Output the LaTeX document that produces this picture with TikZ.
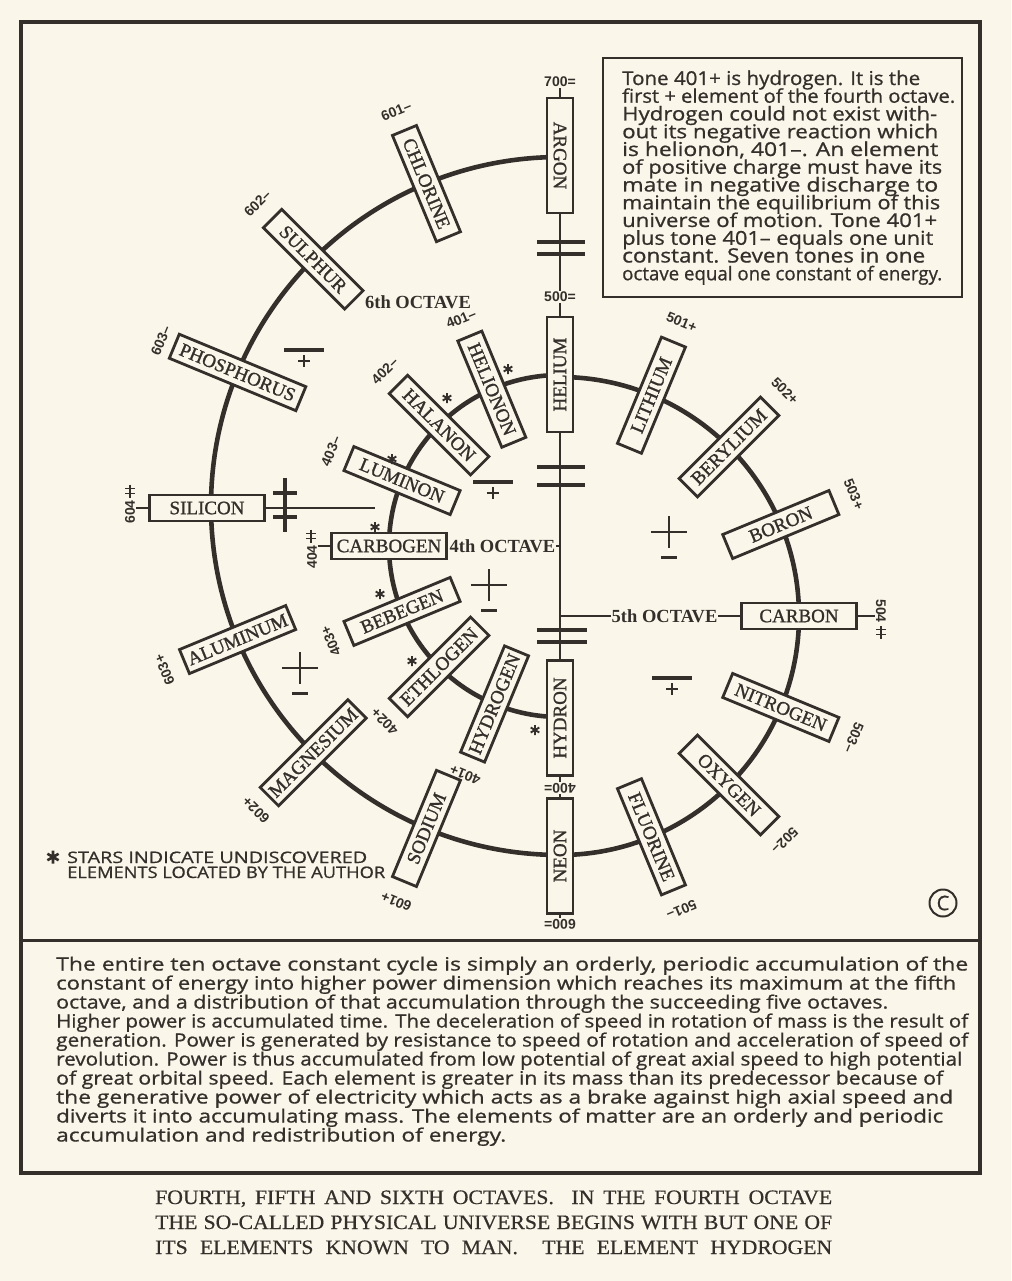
\documentclass[tikz,border=0pt]{standalone}
\usepackage{fontspec}
\usepackage{graphicx}
\setmainfont{Liberation Serif}
\newfontfamily\elemfont{Liberation Serif}[FakeBold=1.2]
\newfontfamily\numfont{Liberation Sans}
\newfontfamily\handfont{Open Sans}[FakeBold=0.8]
\newfontfamily\capfont{Liberation Serif}[FakeBold=0.5]
\usetikzlibrary{calc}
\definecolor{paper}{RGB}{250,247,234}
\definecolor{ink}{RGB}{52,47,43}
\newcommand{\fitln}[3]{\resizebox{#1pt}{#2pt}{#3}}
\tikzset{
  elem/.style={draw=ink, line width=2.8pt, fill=paper, minimum width=115pt, minimum height=26pt, inner sep=2pt, text=ink, font=\elemfont\fontsize{19}{19}\selectfont},
  num/.style={text=ink, inner sep=0.5pt, font=\numfont\bfseries\fontsize{14}{14}\selectfont},
  axlbl/.style={num, fill=paper, inner sep=1.2pt},
  octlbl/.style={text=ink, inner sep=0.5pt, font=\bfseries\fontsize{18.5}{18.5}\selectfont},
  arcline/.style={draw=ink, line width=4.6pt},
  thinline/.style={draw=ink, line width=1.3pt},
  barline/.style={draw=ink, line width=4pt},
  handline/.style={text=ink, inner sep=0pt, anchor=base west, font=\handfont\fontsize{16}{16}\selectfont},
  capline/.style={text=ink, inner sep=0pt, anchor=base west, font=\capfont\fontsize{20.5}{20.5}\selectfont},
  pics/starmark/.style={code={\draw[ink, line width=1.9pt] (0,-5) -- (0,5) (-4.3,-2.5) -- (4.3,2.5) (-4.3,2.5) -- (4.3,-2.5);}},
  pics/bigstar/.style={code={\draw[ink, line width=2.6pt] (0,-6.5) -- (0,6.5) (-5.6,-3.25) -- (5.6,3.25) (-5.6,3.25) -- (5.6,-3.25);}},
  pics/mpsign/.style={code={\draw[ink, line width=4pt] (-20,0) -- (20,0); \draw[ink, line width=1.6pt] (-6,11) -- (6,11) (0,5) -- (0,17);}},
  pics/pmsign/.style={code={\draw[ink, line width=2.9pt] (-18,0) -- (18,0) (0,-16) -- (0,16); \draw[ink, line width=3pt] (-8,25) -- (8,25);}},
  pics/dblcross/.style={code={\draw[ink, line width=1.6pt] (0,-6.5) -- (0,6.5) (-5,-2.5) -- (5,-2.5) (-5,2.5) -- (5,2.5);}},
  pics/bigcross/.style={code={\draw[ink, line width=3.5pt] (0,-27) -- (0,27) (-12,-12) -- (12,-12) (-12,12) -- (12,12);}},
}
\begin{document}
\begin{tikzpicture}[x=1pt, y=-1pt, color=ink]
\useasboundingbox (0,0) rectangle (1011,1281);
\fill[paper] (0,0) rectangle (1011,1281);
% frame
\draw[line width=3.5pt] (21,22) rectangle (980,1173);
\draw[line width=3pt] (21,940) -- (980,940);
% centres
\coordinate (c4) at (560,546);
\coordinate (c5) at (560,616);
\coordinate (c6) at (560,506);
% arcs
\draw[arcline] (560,157) arc[start angle=90, end angle=270, radius=349pt];
\draw[arcline] (560,377) arc[start angle=90, end angle=-90, radius=239pt];
\draw[arcline] (560,375) arc[start angle=90, end angle=270, radius=171pt];
% axis boxes
\node[elem, rotate=-90] (argon) at (560,155.5) {ARGON};
\node[elem, rotate=90] (helium) at (560,374.5) {HELIUM};
\node[elem, rotate=90] (hydron) at (560,718) {HYDRON};
\node[elem, rotate=90] (neon) at (560,856) {NEON};
% sixth octave
\node[elem, rotate=-67.5] (chlorine) at ($(c6)+(112.5:349pt)$) {CHLORINE};
\node[elem, rotate=-45] (sulphur) at ($(c6)+(135:349pt)$) {SULPHUR};
\node[elem, rotate=-22.5, minimum width=137pt] (phosphorus) at ($(c6)+(157.5:349pt)$) {PHOSPHORUS};
\node[elem] (silicon) at (207,508) {SILICON};
\node[elem, rotate=22.5] (aluminum) at ($(c6)+(202.5:349pt)$) {ALUMINUM};
\node[elem, rotate=45, minimum width=124pt] (magnesium) at ($(c6)+(225:349pt)$) {MAGNESIUM};
\node[elem, rotate=67.5] (sodium) at ($(c6)+(247.5:349pt)$) {SODIUM};
% fourth octave
\node[elem, rotate=-67.5] (helionon) at ($(c4)+(113.5:171pt)$) {HELIONON};
\node[elem, rotate=-45] (halanon) at ($(c4)+(135:171pt)$) {HALANON};
\node[elem, rotate=-22.5] (luminon) at ($(c4)+(157.5:171pt)$) {LUMINON};
\node[elem] (carbogen) at ($(c4)+(180:171pt)$) {CARBOGEN};
\node[elem, rotate=22.5] (bebegen) at ($(c4)+(202.5:171pt)$) {BEBEGEN};
\node[elem, rotate=45] (ethlogen) at ($(c4)+(225:171pt)$) {ETHLOGEN};
\node[elem, rotate=67.5] (hydrogen) at ($(c4)+(247.5:171pt)$) {HYDROGEN};
% fifth octave
\node[elem, rotate=67.5] (lithium) at ($(c5)+(67.5:239pt)$) {LITHIUM};
\node[elem, rotate=45] (berylium) at ($(c5)+(45:239pt)$) {BERYLIUM};
\node[elem, rotate=22.5] (boron) at ($(c5)+(22.5:239pt)$) {BORON};
\node[elem] (carbon) at ($(c5)+(0:239pt)$) {CARBON};
\node[elem, rotate=-22.5] (nitrogen) at ($(c5)+(-22.5:239pt)$) {NITROGEN};
\node[elem, rotate=-45] (oxygen) at ($(c5)+(-45:239pt)$) {OXYGEN};
\node[elem, rotate=-67.5] (fluorine) at ($(c5)+(-67.5:239pt)$) {FLUORINE};
% number labels sixth
\node[num, rotate=22.5] (n601m) at ($(c6)+(112.5:428pt)$) {601–};
\node[num, rotate=45] (n602m) at ($(c6)+(135:428pt)$) {602–};
\node[num, rotate=67.5] (n603m) at ($(c6)+(157.5:432pt)$) {603–};
\node[num, rotate=90] (n604) at (130,512) {604};
\node[num, rotate=112.5] (n603p) at ($(c6)+(202.5:428pt)$) {603+};
\node[num, rotate=135] (n602p) at ($(c6)+(225:430pt)$) {602+};
\node[num, rotate=157.5] (n601p) at ($(c6)+(247.5:428pt)$) {601+};
% number labels fourth
\node[num, rotate=22.5] (n401m) at ($(c4)+(113.5:248pt)$) {401–};
\node[num, rotate=45] (n402m) at ($(c4)+(135:248pt)$) {402–};
\node[num, rotate=67.5] (n403m) at ($(c4)+(157.5:248pt)$) {403–};
\node[num, rotate=90] (n404) at (312,557) {404};
\node[num, rotate=112.5] (n403p) at ($(c4)+(202.5:248pt)$) {403+};
\node[num, rotate=135] (n402p) at ($(c4)+(225:248pt)$) {402+};
\node[num, rotate=157.5] (n401p) at ($(c4)+(247.5:248pt)$) {401+};
% number labels fifth
\node[num, rotate=-22.5] (n501p) at ($(c5)+(67.5:318pt)$) {501+};
\node[num, rotate=-45] (n502p) at ($(c5)+(45:318pt)$) {502+};
\node[num, rotate=-67.5] (n503p) at ($(c5)+(22.5:318pt)$) {503+};
\node[num, rotate=-90] (n504) at (881,611) {504};
\node[num, rotate=-112.5] (n503m) at ($(c5)+(-22.5:318pt)$) {503–};
\node[num, rotate=-135] (n502m) at ($(c5)+(-45:318pt)$) {502–};
\node[num, rotate=-157.5] (n501m) at ($(c5)+(-67.5:318pt)$) {501–};
\pic at (130,491) {dblcross};
\pic at (311,536) {dblcross};
\pic at (881,632) {dblcross};
\draw[thinline] (silicon.west) -- (silicon.west -| n604.south);
\draw[thinline] (carbogen.west) -- (carbogen.west -| n404.south);
\draw[thinline] (carbon.east) -- (carbon.east -| n504.south);
% axis labels and axis
\node[axlbl] (l700) at (560,82) {700=};
\node[axlbl] (l500) at (560,297) {500=};
\node[axlbl, rotate=180] (l400) at (560,788) {400=};
\node[axlbl, rotate=180] (l600) at (560,924) {600=};
\draw[thinline] (l700) -- (argon) -- (l500) -- (helium) -- (hydron) -- (l400) -- (neon) -- (l600);
\draw[barline] (537,242) -- (585,242) (537,254) -- (585,254);
\draw[barline] (537,467) -- (585,467) (537,485) -- (585,485);
\draw[barline] (537,630) -- (587,630) (537,642) -- (587,642);
% octave labels
\node[octlbl] (oct6) at (418,302) {6th OCTAVE};
\node[octlbl, anchor=west] (oct4) at ([xshift=1pt]carbogen.east) {4th OCTAVE};
\coordinate (ax4) at (560,546);
\draw[thinline] (oct4.east) -- (ax4);
\coordinate (ax5) at (560,616);
\node[octlbl, anchor=west] (oct5) at (611,616) {5th OCTAVE};
\draw[thinline] (ax5) -- (oct5.west);
\draw[thinline] (oct5.east) -- (carbon.west);
% silicon line and cross
\coordinate (silend) at (375,505);
\draw[thinline] (silicon.east) -- (silicon.east -| silend);
\pic at (285,505) {bigcross};
% signs
\pic at (304,350) {mpsign};
\pic at (493,482) {mpsign};
\pic at (672,678) {mpsign};
\pic at (489,585) {pmsign};
\pic at (669,532) {pmsign};
\pic at (300,668) {pmsign};
% stars
\pic at (508,369) {starmark};
\pic at (447,398) {starmark};
\pic at (392,459) {starmark};
\pic at (375,527) {starmark};
\pic at (380,594) {starmark};
\pic at (412,661) {starmark};
\pic at (535,730) {starmark};
% legend
\pic at (53,857) {bigstar};
\node[handline] (leg1) at (67,863) {\fitln{300}{11.5}{STARS INDICATE UNDISCOVERED}};
\node[handline] (leg2) at (67,878) {\fitln{318}{11.5}{ELEMENTS LOCATED BY THE AUTHOR}};
% copyright
\node[circle, draw=ink, line width=2pt, minimum size=27pt, inner sep=0pt, text=ink, font=\handfont\fontsize{20}{20}\selectfont] (copy) at (943,903) {C};
% text box
\draw[line width=2pt] (603,58) rectangle (962,297);
\foreach \lw/\txt [count=\i] in {
 298/{Tone 401+ is hydrogen. It is the},
 333/{first + element of the fourth octave.},
 315/{Hydrogen could not exist with-},
 316/{out its negative reaction which},
 316/{is helionon, 401–. An element},
 320/{of positive charge must have its},
 316/{mate in negative discharge to},
 318/{maintain the equilibrium of this},
 315/{universe of motion. Tone 401+},
 311/{plus tone 401– equals one unit},
 303/{constant. Seven tones in one},
 320/{octave equal one constant of energy.}}
{ \node[handline] (bt\i) at (622,{85+17.75*(\i-1)}) {\fitln{\lw}{14.5}{\txt}}; }
% paragraph
\foreach \lw/\txt [count=\i] in {
 912/{The entire ten octave constant cycle is simply an orderly, periodic accumulation of the},
 900/{constant of energy into higher power dimension which reaches its maximum at the fifth},
 832/{octave, and a distribution of that accumulation through the succeeding five octaves.},
 912/{Higher power is accumulated time. The deceleration of speed in rotation of mass is the result of},
 912/{generation. Power is generated by resistance to speed of rotation and acceleration of speed of},
 906/{revolution. Power is thus accumulated from low potential of great axial speed to high potential},
 887/{of great orbital speed. Each element is greater in its mass than its predecessor because of},
 897/{the generative power of electricity which acts as a brake against high axial speed and},
 887/{diverts it into accumulating mass. The elements of matter are an orderly and periodic},
 450/{accumulation and redistribution of energy.}}
{ \node[handline] (pl\i) at (56,{970.5+19*(\i-1)}) {\fitln{\lw}{14}{\txt}}; }
% caption
\node[capline] (cap1) at (155,1204) {\scalebox{1.06}[1]{\makebox[638.7pt][s]{FOURTH, FIFTH AND SIXTH OCTAVES.\ \ IN THE FOURTH OCTAVE}}};
\node[capline] (cap2) at (155,1229) {\scalebox{1.06}[1]{\makebox[638.7pt][s]{THE SO-CALLED PHYSICAL UNIVERSE BEGINS WITH BUT ONE OF}}};
\node[capline] (cap3) at (155,1254) {\scalebox{1.06}[1]{\makebox[638.7pt][s]{ITS ELEMENTS KNOWN TO MAN.\ \ THE ELEMENT HYDROGEN}}};
\end{tikzpicture}
\end{document}
